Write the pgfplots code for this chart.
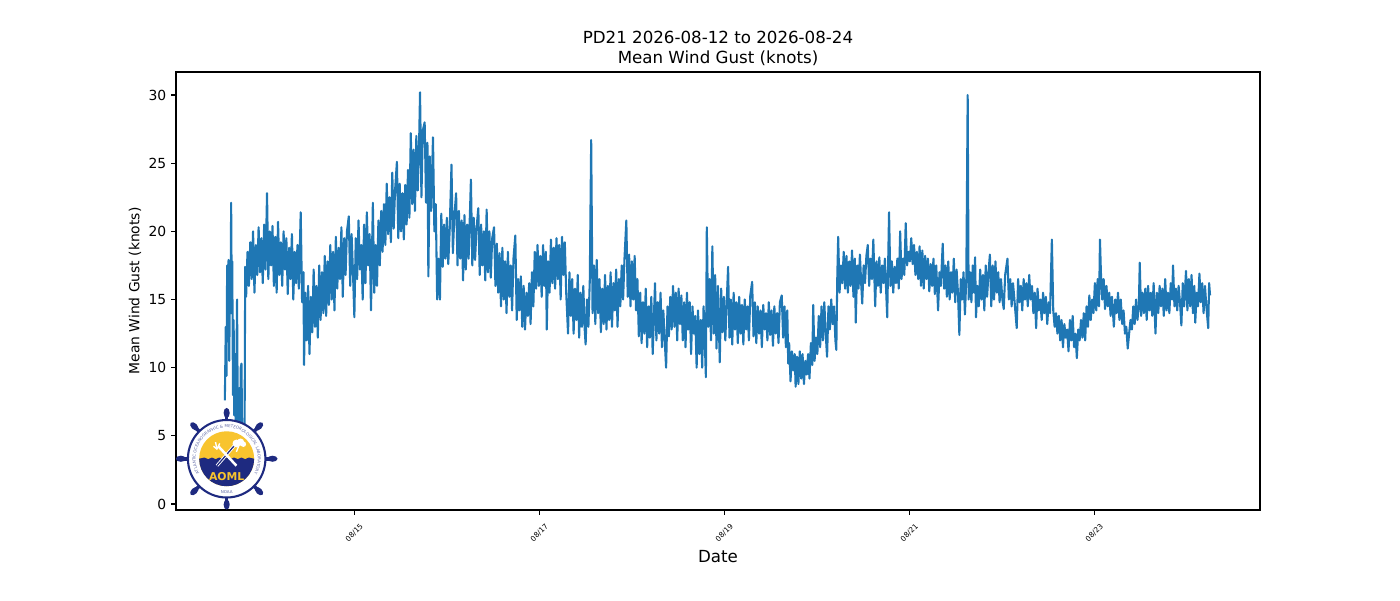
\documentclass[border=0pt]{standalone}
\usepackage{fontspec}
\setmainfont{DejaVu Sans}
\usepackage{pgfplots}
\pgfplotsset{compat=1.18}
\usetikzlibrary{decorations.text}
\definecolor{mplblue}{HTML}{1F77B4}
\definecolor{aomlnavy}{HTML}{1E2A80}
\definecolor{aomlyellow}{HTML}{F8C42E}
\begin{document}
\begin{tikzpicture}
\useasboundingbox (0,0) rectangle (1008pt,432pt);
\begin{axis}[
  at={(126.72pt,64.8pt)}, anchor=south west,
  scale only axis, width=780.48pt, height=315.36pt,
  xmin=13.072, xmax=24.79, ymin=-0.44, ymax=31.69,
  xtick={15,17,19,21,23},
  xticklabels={08/15,08/17,08/19,08/21,08/23},
  ytick={0,5,10,15,20,25,30},
  /pgf/number format/assume math mode=true,
  tick align=outside, tick pos=left,
  major tick length=3.5pt,
  every tick/.style={black, line width=0.8pt},
  axis line style={line width=0.8pt},
  x tick label style={yshift=-13pt, rotate=45, anchor=center, font=\fontsize{5.3}{6}\selectfont},
  y tick label style={font=\fontsize{10}{12}\selectfont},
  clip=true,
]
\addplot[mplblue, line width=1.5pt, line join=round] coordinates {
(13.600,7.6) (13.610,13.0) (13.618,9.4) (13.625,17.5) (13.632,12.0) (13.640,17.9) (13.648,10.5) (13.655,17.2) (13.662,14.0) (13.668,22.1) (13.674,15.5) (13.680,17.8) (13.688,8.0) (13.695,13.5) (13.702,6.5) (13.710,11.0) (13.718,5.0) (13.725,9.8) (13.732,15.0) (13.740,6.0) (13.748,4.2) (13.756,8.5) (13.764,3.0) (13.772,10.0) (13.780,10.3) (13.786,5.5) (13.792,2.0) (13.798,1.0) (13.805,4.0) (13.810,1.2) (13.815,8.0) (13.820,17.4)
(13.83,15.2) (13.845,18.5) (13.86,16.0) (13.875,19.2) (13.89,16.5) (13.905,20.0) (13.92,15.5) (13.935,19.0) (13.95,16.8) (13.965,20.3) (13.98,17.0) (13.995,19.5) (14.01,16.2) (14.025,20.5) (14.04,17.2) (14.056,22.8) (14.07,16.5) (14.085,20.0) (14.10,17.5) (14.115,20.4) (14.13,16.0) (14.145,19.6) (14.16,15.5) (14.175,20.7) (14.19,16.8) (14.205,19.2) (14.22,16.0) (14.235,20.0) (14.25,17.2) (14.265,19.5) (14.28,15.4) (14.295,18.8) (14.31,16.5) (14.325,19.8) (14.34,15.0) (14.355,18.5) (14.37,16.2) (14.385,19.0) (14.40,15.8) (14.42,21.4) (14.435,14.8) (14.45,17.0) (14.456,10.2) (14.47,15.5) (14.485,12.0) (14.50,16.0) (14.515,11.0) (14.53,15.2) (14.545,12.6) (14.56,17.2) (14.575,13.0) (14.59,16.0) (14.605,12.2) (14.62,17.5) (14.635,13.5) (14.65,17.0) (14.665,14.0) (14.68,18.2) (14.695,13.8) (14.71,17.8) (14.725,14.6) (14.74,19.0) (14.755,15.0) (14.77,18.5) (14.785,14.2) (14.80,19.6) (14.815,15.8) (14.83,18.8) (14.845,16.5) (14.86,20.3) (14.875,15.2) (14.89,19.5) (14.905,16.8) (14.92,20.0) (14.94,21.1) (14.955,16.0) (14.97,19.8) (14.985,17.0)
(15.00,13.7) (15.015,19.5) (15.03,16.5) (15.045,20.8) (15.06,17.2) (15.075,19.0) (15.09,15.0) (15.105,20.5) (15.12,16.2) (15.135,21.4) (15.15,17.5) (15.165,19.8) (15.18,14.2) (15.20,22.1) (15.215,15.5) (15.23,19.0) (15.245,16.0) (15.26,20.8) (15.275,17.5) (15.29,21.5) (15.305,18.5) (15.32,22.0) (15.335,19.0) (15.35,23.5) (15.365,19.8) (15.38,22.5) (15.395,19.2) (15.41,24.3) (15.425,20.2) (15.44,23.0) (15.46,25.1) (15.475,19.5) (15.49,23.5) (15.505,20.0) (15.52,22.8) (15.535,19.4) (15.55,23.4) (15.565,20.5) (15.58,24.5) (15.595,21.0) (15.61,27.2) (15.625,22.0) (15.64,26.0) (15.655,21.5) (15.67,27.0) (15.685,23.0) (15.70,26.5) (15.71,30.2) (15.725,22.5) (15.74,27.4) (15.76,28.0) (15.775,22.1) (15.79,26.5) (15.80,16.7) (15.815,25.5) (15.83,21.5) (15.85,26.9) (15.865,20.0) (15.88,22.0) (15.895,15.0) (15.91,18.0) (15.925,15.0) (15.94,21.3) (15.955,17.4) (15.97,20.5) (15.985,18.0)
(16.00,21.0) (16.015,17.6) (16.03,20.0) (16.05,24.9) (16.065,18.4) (16.08,21.0) (16.10,22.8) (16.115,17.5) (16.13,21.5) (16.145,18.0) (16.16,20.8) (16.175,16.4) (16.19,21.2) (16.205,17.2) (16.22,20.5) (16.235,18.0) (16.26,23.8) (16.275,17.5) (16.29,21.0) (16.305,17.9) (16.32,20.2) (16.34,21.7) (16.355,16.8) (16.37,20.5) (16.385,17.5) (16.40,20.0) (16.415,16.4) (16.43,21.6) (16.445,17.0) (16.46,20.0) (16.475,16.6) (16.49,19.5) (16.51,20.3) (16.525,16.0) (16.54,19.1) (16.555,15.5) (16.57,18.4) (16.585,14.5) (16.60,18.8) (16.615,15.0) (16.63,17.8) (16.645,14.0) (16.66,18.5) (16.675,15.2) (16.69,17.5) (16.705,14.2) (16.72,18.0) (16.74,19.7) (16.755,13.5) (16.77,16.5) (16.785,14.2) (16.80,16.7) (16.815,13.0) (16.83,16.0) (16.845,12.8) (16.86,15.5) (16.875,13.8) (16.89,16.2) (16.905,13.2) (16.92,17.0) (16.935,14.5) (16.95,18.5) (16.965,15.8) (16.98,19.0) (16.995,16.0)
(17.01,18.2) (17.025,15.2) (17.04,19.0) (17.055,16.0) (17.07,18.5) (17.08,12.8) (17.095,17.8) (17.11,15.5) (17.125,19.4) (17.14,16.2) (17.155,18.8) (17.17,15.8) (17.185,19.5) (17.20,16.5) (17.215,19.0) (17.23,15.0) (17.245,19.6) (17.26,16.8) (17.275,19.2) (17.29,15.5) (17.31,12.5) (17.325,17.0) (17.34,13.8) (17.355,16.5) (17.37,12.5) (17.385,15.8) (17.40,13.5) (17.415,16.8) (17.43,12.2) (17.445,15.5) (17.46,13.0) (17.475,16.0) (17.49,12.8) (17.50,11.7) (17.515,15.0) (17.53,13.0) (17.545,16.4) (17.56,26.7) (17.575,14.0) (17.59,17.5) (17.605,13.2) (17.62,17.9) (17.635,14.0) (17.65,16.5) (17.665,12.6) (17.68,15.8) (17.695,13.2) (17.71,16.8) (17.725,12.8) (17.74,16.0) (17.755,13.5) (17.77,17.0) (17.785,13.0) (17.80,16.2) (17.815,14.2) (17.83,17.2) (17.845,13.0) (17.86,16.5) (17.875,14.5) (17.89,17.5) (17.905,15.0) (17.92,18.0) (17.94,20.8) (17.955,15.2) (17.97,18.3) (17.985,14.5)
(18.00,17.8) (18.015,15.0) (18.03,18.2) (18.045,14.2) (18.06,16.5) (18.075,12.3) (18.09,15.5) (18.105,11.8) (18.12,14.8) (18.135,12.5) (18.15,15.8) (18.165,11.5) (18.18,14.5) (18.195,12.2) (18.21,15.2) (18.225,11.0) (18.25,16.2) (18.265,12.0) (18.28,14.8) (18.295,12.5) (18.31,15.5) (18.325,11.5) (18.34,14.2) (18.355,12.0) (18.37,10.0) (18.385,14.5) (18.40,12.3) (18.415,15.2) (18.43,12.8) (18.445,16.0) (18.46,13.0) (18.475,15.5) (18.49,12.0) (18.505,15.8) (18.52,13.2) (18.535,15.3) (18.55,12.0) (18.565,14.8) (18.58,11.5) (18.595,15.5) (18.61,12.8) (18.625,14.8) (18.64,11.0) (18.655,14.5) (18.67,12.5) (18.685,13.8) (18.70,10.0) (18.715,14.2) (18.73,11.0) (18.745,13.5) (18.76,10.0) (18.775,14.5) (18.79,11.5) (18.80,9.3) (18.81,20.3) (18.825,13.0) (18.84,16.5) (18.855,12.0) (18.87,18.9) (18.885,12.5) (18.90,16.8) (18.915,11.4) (18.93,16.0) (18.95,10.4) (18.965,15.8) (18.98,12.6) (18.995,15.2)
(19.01,12.0) (19.025,14.8) (19.04,17.4) (19.055,12.2) (19.07,15.0) (19.085,11.7) (19.10,15.5) (19.115,12.8) (19.13,14.8) (19.145,11.8) (19.16,15.2) (19.175,12.5) (19.19,14.6) (19.205,11.7) (19.22,15.0) (19.235,12.8) (19.25,14.5) (19.265,12.0) (19.28,15.3) (19.30,16.3) (19.315,12.3) (19.33,14.8) (19.345,11.8) (19.36,14.5) (19.375,12.5) (19.39,14.2) (19.405,11.5) (19.42,14.6) (19.435,12.8) (19.45,14.0) (19.465,12.0) (19.48,14.8) (19.495,12.4) (19.51,14.2) (19.525,11.6) (19.54,14.5) (19.555,12.5) (19.57,14.0) (19.585,11.8) (19.60,14.8) (19.62,15.3) (19.635,12.2) (19.65,14.5) (19.665,11.5) (19.68,14.2) (19.69,10.3) (19.70,11.8) (19.715,9.0) (19.73,11.2) (19.745,9.8) (19.76,11.0) (19.77,8.6) (19.785,10.8) (19.80,8.8) (19.815,11.2) (19.83,9.2) (19.845,11.0) (19.86,8.8) (19.875,10.5) (19.89,9.5) (19.905,11.0) (19.92,9.2) (19.935,11.8) (19.95,10.2) (19.96,14.6) (19.975,10.5) (19.99,12.2)
(20.005,11.0) (20.02,13.8) (20.035,11.5) (20.05,14.5) (20.065,12.0) (20.08,14.8) (20.095,12.5) (20.11,10.8) (20.125,14.5) (20.14,12.8) (20.155,15.0) (20.17,13.2) (20.185,14.5) (20.20,12.0) (20.21,11.3) (20.22,16.5) (20.23,19.6) (20.245,15.5) (20.26,17.5) (20.275,16.2) (20.29,18.5) (20.305,15.8) (20.32,18.2) (20.335,15.5) (20.35,17.8) (20.365,16.0) (20.38,18.6) (20.395,15.2) (20.41,18.0) (20.42,13.3) (20.435,17.5) (20.45,15.8) (20.465,18.3) (20.48,16.0) (20.49,14.7) (20.505,17.5) (20.52,16.2) (20.535,18.2) (20.55,19.0) (20.565,16.0) (20.58,18.0) (20.595,16.5) (20.61,19.4) (20.63,14.5) (20.645,17.8) (20.66,16.0) (20.675,18.1) (20.69,15.5) (20.705,17.5) (20.72,16.2) (20.735,18.0) (20.76,13.7) (20.78,21.4) (20.795,16.0) (20.81,17.8) (20.825,15.5) (20.84,17.4) (20.855,16.2) (20.87,18.0) (20.885,15.8) (20.90,20.0) (20.915,16.5) (20.93,18.0) (20.945,16.8) (20.96,20.6) (20.975,17.5) (20.99,18.5)
(21.005,17.8) (21.02,19.5) (21.035,17.6) (21.05,19.0) (21.065,16.8) (21.08,18.5) (21.095,16.5) (21.11,18.9) (21.125,16.0) (21.14,18.6) (21.155,15.8) (21.17,18.2) (21.185,16.5) (21.20,18.0) (21.215,15.6) (21.23,17.6) (21.245,16.0) (21.26,18.0) (21.275,15.4) (21.29,17.5) (21.31,14.2) (21.325,17.0) (21.34,16.0) (21.36,19.1) (21.375,15.8) (21.39,17.5) (21.405,15.2) (21.42,17.8) (21.435,15.0) (21.45,17.0) (21.465,15.5) (21.48,18.0) (21.495,14.8) (21.51,17.2) (21.525,15.5) (21.54,12.4) (21.555,16.5) (21.57,15.0) (21.585,17.0) (21.60,13.9) (21.615,16.5) (21.63,30.0) (21.64,15.0) (21.655,17.0) (21.67,14.8) (21.685,17.5) (21.70,15.5) (21.71,18.1) (21.72,13.7) (21.735,16.0) (21.75,14.5) (21.765,17.2) (21.78,15.0) (21.795,16.8) (21.81,14.2) (21.825,17.5) (21.84,15.2) (21.855,17.0) (21.87,18.3) (21.885,14.5) (21.90,17.5) (21.915,15.0) (21.93,17.8) (21.945,15.5) (21.96,17.0) (21.975,14.8) (21.99,16.5)
(22.005,15.0) (22.02,14.3) (22.035,16.8) (22.06,18.0) (22.075,15.0) (22.09,16.5) (22.105,14.5) (22.12,16.2) (22.135,15.0) (22.16,12.9) (22.175,16.5) (22.19,14.8) (22.205,16.0) (22.22,14.2) (22.235,16.5) (22.25,15.0) (22.265,16.2) (22.28,14.5) (22.295,16.8) (22.31,15.0) (22.325,16.0) (22.34,14.0) (22.355,15.5) (22.37,12.9) (22.385,15.8) (22.40,14.2) (22.415,15.0) (22.43,13.5) (22.445,15.5) (22.46,14.0) (22.475,15.2) (22.49,13.2) (22.505,14.8) (22.52,14.0) (22.54,19.4) (22.555,14.2) (22.57,13.0) (22.585,14.0) (22.60,12.5) (22.615,13.8) (22.63,12.0) (22.645,13.5) (22.66,11.5) (22.675,13.2) (22.69,12.2) (22.705,12.8) (22.72,11.2) (22.735,13.5) (22.75,12.0) (22.765,13.8) (22.78,11.5) (22.795,12.5) (22.81,10.7) (22.825,12.8) (22.84,12.0) (22.855,13.5) (22.87,12.2) (22.885,14.0) (22.90,12.0) (22.915,14.5) (22.93,13.0) (22.945,15.3) (22.96,13.5) (22.975,15.0) (22.99,14.0)
(23.005,16.2) (23.02,14.2) (23.035,16.5) (23.05,14.5) (23.06,19.4) (23.07,17.0) (23.085,15.0) (23.10,16.5) (23.115,14.3) (23.13,16.0) (23.145,14.5) (23.16,15.5) (23.175,13.8) (23.19,15.2) (23.21,13.0) (23.225,15.0) (23.24,14.0) (23.255,15.5) (23.27,13.5) (23.285,15.0) (23.30,13.2) (23.315,14.2) (23.33,12.5) (23.345,13.0) (23.36,11.4) (23.375,12.5) (23.39,13.5) (23.405,12.8) (23.42,14.5) (23.435,13.2) (23.45,15.0) (23.465,13.5) (23.48,14.5) (23.49,17.7) (23.505,13.8) (23.52,15.5) (23.535,14.0) (23.55,15.8) (23.565,13.5) (23.58,16.0) (23.595,14.2) (23.61,15.5) (23.625,13.8) (23.64,16.2) (23.66,12.5) (23.675,15.5) (23.69,14.0) (23.705,16.0) (23.72,14.5) (23.735,15.8) (23.75,13.8) (23.765,16.5) (23.78,14.2) (23.795,15.5) (23.81,14.0) (23.825,16.2) (23.84,15.0) (23.85,17.5) (23.865,14.5) (23.88,15.8) (23.895,14.2) (23.91,16.0) (23.925,14.8) (23.94,13.1) (23.955,16.2) (23.97,14.5) (23.99,17.1)
(24.005,14.2) (24.02,16.5) (24.035,14.5) (24.05,16.8) (24.065,14.0) (24.08,16.0) (24.09,13.3) (24.105,15.5) (24.12,14.5) (24.135,16.9) (24.15,14.8) (24.165,16.2) (24.18,14.0) (24.195,16.0) (24.21,14.5) (24.23,12.9) (24.24,16.2) (24.25,15.3)
};
\end{axis}
% titles and labels
\node[font=\fontsize{12}{14}\selectfont] at (516.96pt,405.4pt) {PD21 2026-08-12 to 2026-08-24};
\node[font=\fontsize{12}{14}\selectfont] at (516.96pt,390.2pt) {Mean Wind Gust (knots)};
\node[font=\fontsize{10}{12}\selectfont, rotate=90] at (97.2pt,222.5pt) {Mean Wind Gust (knots)};
\node[font=\fontsize{12}{14}\selectfont] at (516.96pt,30.96pt) {Date};
% AOML logo (decorative)
\begin{scope}[shift={(163.2pt,101.7pt)}]
  \foreach \a in {0,45,...,315} {
    \draw[aomlnavy, line width=2.6pt] (\a:27pt) -- (\a:31pt);
    \fill[aomlnavy, rotate=\a] (33pt,0) ellipse (3.6pt and 2.2pt);
  }
  \filldraw[fill=white, draw=aomlnavy, line width=1.5pt] (0,0) circle (27.9pt);
  \path[decorate, decoration={text along path, text align=center,
     text={|\fontsize{2.9}{3}\selectfont\color{aomlnavy!70}|ATLANTIC OCEANOGRAPHIC {\&} METEOROLOGICAL LABORATORY}}]
     (232:22.4pt) arc (232:-52:22.4pt);
  \node[font=\fontsize{2.9}{3}\selectfont, text=aomlnavy!70] at (0,-23.6pt) {NOAA};
  \fill[aomlyellow] (0,0) circle (19.8pt);
  \fill[aomlnavy] (-19.8pt,0) arc (180:360:19.8pt)
     -- (16pt,0.9pt) -- (13.3pt,-0.3pt) -- (10.6pt,0.9pt) -- (8pt,-0.3pt) -- (5.3pt,0.9pt) -- (2.6pt,-0.3pt) -- (0pt,0.9pt) -- (-2.6pt,-0.3pt) -- (-5.3pt,0.9pt) -- (-8pt,-0.3pt) -- (-10.6pt,0.9pt) -- (-13.3pt,-0.3pt) -- (-16pt,0.9pt) -- cycle;
  \draw[white, line width=2.2pt] (-7pt,-5pt) -- (6pt,10pt);
  \draw[aomlnavy, line width=0.9pt] (-7pt,-5pt) -- (6pt,10pt);
  \draw[white, line width=1.8pt] (7pt,-5pt) -- (-6pt,9pt);
  \draw[white, line width=1.0pt] (-9.5pt,9pt) -- (-7pt,7pt) -- (-5pt,11pt);
  \draw[white, line width=1.0pt] (-7pt,7pt) -- (-8pt,12pt);
  \fill[white] (7pt,11pt) circle (2.8pt);
  \fill[white] (10pt,12pt) circle (2.6pt);
  \fill[white] (12pt,10.5pt) circle (2pt);
  \draw[white, line width=1pt] (9pt,10pt) -- (7pt,5pt);
  \node[font=\bfseries\fontsize{7.8}{9}\selectfont, text=aomlyellow] at (0,-12.5pt) {AOML};
\end{scope}
\end{tikzpicture}
\end{document}
